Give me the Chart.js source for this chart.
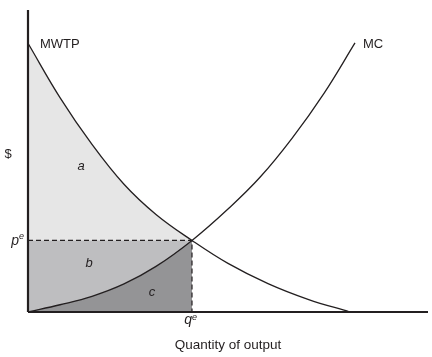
<!DOCTYPE html>
<html>
<head>
<meta charset="utf-8">
<script src="https://cdn.jsdelivr.net/npm/chart.js@4/dist/chart.umd.min.js"></script>
<style>
html,body{margin:0;padding:0;background:#fff;}
#wrap{width:432px;height:357px;}
</style>
</head>
<body>
<div id="wrap"><canvas id="c" width="432" height="357"></canvas></div>
<script>
// Quantity (x) and $ (y) readings, arbitrary units 0..100
const mwtpX = [0, 8, 16, 24, 32, 41, 50, 60, 70, 80.5];
const mwtpY = [89.0, 71.0, 55.5, 42.3, 32.3, 23.7, 16.1, 9.4, 4.2, 0];
const mcX = [0, 8, 16, 24, 32, 41, 50, 58, 66, 74, 81.75];
const mcY = [0, 2.4, 5.2, 9.3, 15.1, 23.7, 34.1, 44.6, 57.5, 72.4, 89.1];
const pe = 23.7;   // equilibrium price
const qe = 41;     // equilibrium quantity
const axisMax = [100, 100];
const labels = {mwtp: 'MWTP', mc: 'MC', yTitle: '$', xTitle: 'Quantity of output', a: 'a', b: 'b', c: 'c', p: 'p', q: 'q', sup: 'e'};

const toPts = (xs, ys) => xs.map((x, i) => ({x: x, y: ys[i]}));
const mwtpPts = toPts(mwtpX, mwtpY);
const mcPts = toPts(mcX, mcY);
const mwtpLeft = mwtpPts.filter(p => p.x <= qe);
const mcLeft = mcPts.filter(p => p.x <= qe);

const INK = '#231f20';
const FONT = '"Liberation Sans", Arial, sans-serif';

const textPlugin = {
  id: 'texts',
  afterDraw(chart) {
    const ctx = chart.ctx;
    const xs = chart.scales.x, ys = chart.scales.y;
    ctx.save();
    ctx.fillStyle = INK;
    ctx.textBaseline = 'middle';
    ctx.textAlign = 'left';
    ctx.font = '13px ' + FONT;
    ctx.fillText(labels.mwtp, 40, 44);
    ctx.fillText(labels.mc, 363, 44);
    ctx.textAlign = 'center';
    ctx.fillText(labels.yTitle, 8, 154);
    ctx.font = '13.5px ' + FONT;
    ctx.fillText(labels.xTitle, 228, 345);
    ctx.font = 'italic 13px ' + FONT;
    ctx.fillText(labels.a, 81, 166);
    ctx.fillText(labels.b, 89, 263);
    ctx.fillText(labels.c, 152, 292);
    // p^e
    const py = ys.getPixelForValue(pe);
    ctx.font = 'italic 14px ' + FONT;
    ctx.textAlign = 'right';
    ctx.fillText(labels.p, 19, py + 1);
    ctx.font = 'italic 9px ' + FONT;
    ctx.textAlign = 'left';
    ctx.fillText(labels.sup, 19, py - 4);
    // q^e
    const qx = xs.getPixelForValue(qe);
    ctx.font = 'italic 14px ' + FONT;
    ctx.textAlign = 'right';
    ctx.fillText(labels.q, qx, 320);
    ctx.font = 'italic 9px ' + FONT;
    ctx.textAlign = 'left';
    ctx.fillText(labels.sup, qx, 317);
    ctx.restore();
  }
};

const curve = {showLine: true, pointRadius: 0, tension: 0.4};

new Chart(document.getElementById('c'), {
  type: 'scatter',
  data: {
    datasets: [
      Object.assign({data: mwtpPts, borderColor: INK, borderWidth: 1.3, fill: false, clip: false}, curve),
      Object.assign({data: mcPts, borderColor: INK, borderWidth: 1.3, fill: false, clip: false}, curve),
      {data: [{x: 0, y: pe}, {x: qe, y: pe}, {x: qe, y: 0}], showLine: true, borderColor: INK, borderWidth: 1.2, borderDash: [5, 3], pointRadius: 0, fill: false, clip: false},
      {data: [{x: 0, y: 0}, {x: 0, y: axisMax[1]}], showLine: true, borderColor: INK, borderWidth: 2.2, pointRadius: 0, fill: false, clip: false},
      {data: [{x: 0, y: 0}, {x: axisMax[0], y: 0}], showLine: true, borderColor: INK, borderWidth: 2.2, pointRadius: 0, fill: false, clip: false},
      Object.assign({data: mcLeft, borderWidth: 0, borderColor: 'rgba(0,0,0,0)', backgroundColor: '#949496', fill: 'origin'}, curve),
      {data: [{x: 0, y: pe}, {x: qe, y: pe}], showLine: true, borderWidth: 0, borderColor: 'rgba(0,0,0,0)', backgroundColor: '#bebec0', pointRadius: 0, fill: 'origin'},
      Object.assign({data: mwtpLeft, borderWidth: 0, borderColor: 'rgba(0,0,0,0)', backgroundColor: '#e6e6e6', fill: 'origin'}, curve)
    ]
  },
  options: {
    responsive: false,
    animation: false,
    events: [],
    layout: {padding: {left: 28, right: 4, top: 10, bottom: 45}},
    plugins: {legend: {display: false}, tooltip: {enabled: false}, filler: {propagate: false}},
    scales: {
      x: {type: 'linear', min: 0, max: axisMax[0], display: false},
      y: {type: 'linear', min: 0, max: axisMax[1], display: false}
    }
  },
  plugins: [textPlugin]
});
</script>
</body>
</html>
